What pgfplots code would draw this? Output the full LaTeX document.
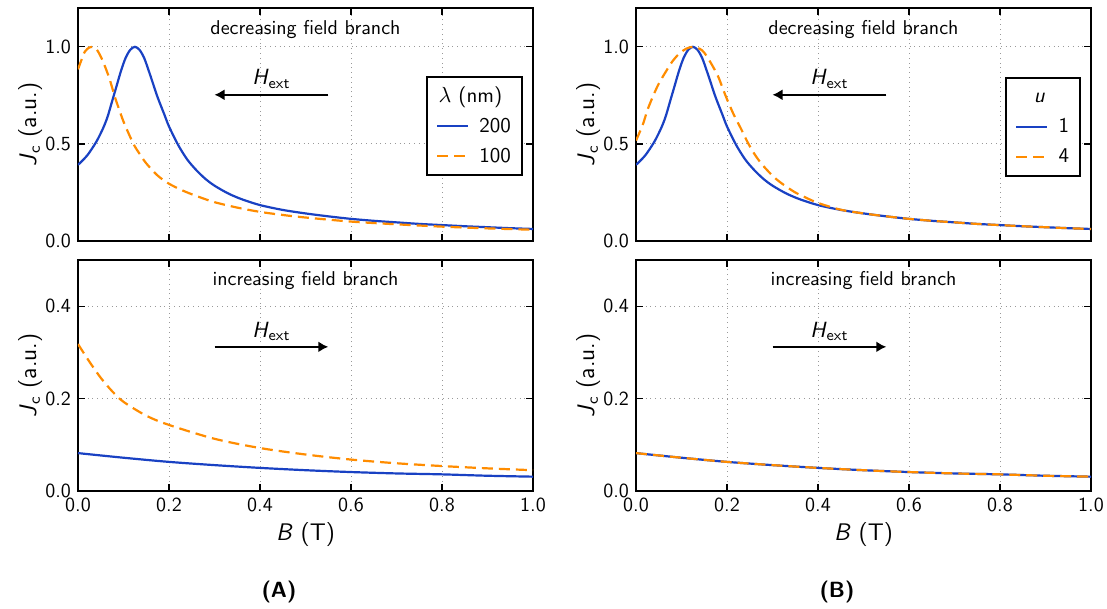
\documentclass[border=0pt]{standalone}
\usepackage{pgfplots}
\usepackage{pgfplotstable}
\pgfplotsset{compat=1.18}
\usetikzlibrary{arrows.meta}
\renewcommand{\familydefault}{\sfdefault}

\definecolor{jblue}{RGB}{25,65,195}
\definecolor{jorange}{RGB}{255,140,0}

% decreasing branch, lambda = 200 nm (same curve as u = 1)
\pgfplotstableread{
x y
0.000 0.392
0.020 0.440
0.040 0.510
0.055 0.580
0.065 0.640
0.075 0.720
0.085 0.800
0.095 0.880
0.105 0.945
0.115 0.985
0.125 1.000
0.135 0.985
0.145 0.945
0.155 0.880
0.165 0.810
0.175 0.740
0.190 0.650
0.200 0.590
0.220 0.495
0.240 0.420
0.260 0.365
0.280 0.320
0.300 0.285
0.330 0.245
0.360 0.215
0.400 0.185
0.450 0.160
0.500 0.142
0.550 0.127
0.600 0.114
0.650 0.104
0.700 0.096
0.750 0.088
0.800 0.082
0.850 0.076
0.900 0.071
0.950 0.066
1.000 0.062
}\decA

% decreasing branch, lambda = 100 nm
\pgfplotstableread{
x y
0.000 0.884
0.008 0.935
0.015 0.975
0.025 0.997
0.032 1.000
0.040 0.990
0.050 0.950
0.060 0.895
0.070 0.830
0.080 0.750
0.090 0.680
0.100 0.615
0.112 0.550
0.123 0.495
0.135 0.450
0.150 0.400
0.175 0.337
0.200 0.295
0.230 0.260
0.260 0.232
0.300 0.200
0.350 0.172
0.400 0.150
0.450 0.134
0.500 0.121
0.600 0.100
0.700 0.086
0.800 0.074
0.900 0.065
1.000 0.058
}\decB

% decreasing branch, u = 4
\pgfplotstableread{
x y
0.000 0.517
0.015 0.600
0.026 0.680
0.040 0.760
0.050 0.810
0.065 0.870
0.080 0.925
0.095 0.965
0.110 0.990
0.125 1.000
0.140 0.990
0.150 0.970
0.165 0.915
0.180 0.850
0.190 0.790
0.200 0.730
0.215 0.650
0.231 0.577
0.245 0.510
0.260 0.449
0.275 0.400
0.289 0.363
0.305 0.325
0.326 0.287
0.350 0.250
0.370 0.227
0.400 0.196
0.450 0.161
0.500 0.142
0.550 0.127
0.600 0.114
0.650 0.104
0.700 0.096
0.750 0.088
0.800 0.082
0.850 0.076
0.900 0.071
0.950 0.066
1.000 0.062
}\decC

% increasing branch, lambda = 200 nm (also u = 1 and u = 4)
\pgfplotstableread{
x y
0.000 0.082
0.100 0.072
0.200 0.063
0.300 0.056
0.400 0.050
0.500 0.045
0.600 0.041
0.700 0.038
0.800 0.036
0.900 0.033
1.000 0.031
}\incA

% increasing branch, lambda = 100 nm
\pgfplotstableread{
x y
0.000 0.318
0.025 0.280
0.050 0.245
0.075 0.216
0.100 0.193
0.150 0.163
0.200 0.143
0.300 0.113
0.400 0.093
0.500 0.079
0.600 0.068
0.700 0.060
0.800 0.054
0.900 0.049
1.000 0.045
}\incB

\tikzset{
  note/.style={font=\fontsize{10}{12}\selectfont},
  hlab/.style={font=\fontsize{11}{13}\selectfont},
  harrow/.style={-{Latex[length=5pt,width=5.5pt]}, line width=0.9pt, black},
}

% legend title: centred at a given offset left of the text column
\newcommand{\legtitle}[2]{\makebox[0pt][r]{\makebox[0pt]{#2}\hspace{#1}}}

\pgfplotsset{
  panel/.style={
    scale only axis, width=227.5pt,
    xmin=0, xmax=1, xtick={0,0.2,0.4,0.6,0.8,1.0},
    grid=major, grid style={dotted, gray!80, line width=0.5pt},
    tick align=inside, major tick length=3.5pt,
    tick style={black, line width=0.6pt},
    axis line style={line width=0.8pt},
    ticklabel style={font=\fontsize{10}{12}\selectfont},
    /pgf/number format/fixed, /pgf/number format/fixed zerofill,
    /pgf/number format/precision=1, /pgf/number format/assume math mode=true,
    ylabel={\textit{J}\textsubscript{c} (a.u.)},
    ylabel style={at={(axis description cs:-0.105,0.5)}, anchor=center, font=\fontsize{12}{14}\selectfont},
    xlabel style={at={(axis description cs:0.5,-0.19)}, anchor=center, font=\fontsize{12}{14}\selectfont},
    legend style={draw=black, line width=1pt, inner xsep=4.5pt, inner ysep=2pt,
      row sep=0pt, column sep=4pt,
      nodes={inner sep=1pt, text height=9.5pt, text depth=3.5pt},
      font=\fontsize{10.5}{12.5}\selectfont},
    legend cell align=left,
    legend image code/.code={\draw[#1] (0pt,0pt) -- (15.5pt,0pt);},
  },
  toppanel/.style={panel, height=116.5pt, ymin=0, ymax=1.2, ytick={0,0.5,1.0}, xticklabels={}},
  botpanel/.style={panel, height=115.5pt, ymin=0, ymax=0.5, ytick={0,0.2,0.4}, xlabel={\textit{B} (T)}},
  lineA/.style={jblue, line width=1.1pt, smooth},
  lineB/.style={jorange, line width=1.1pt, dash pattern=on 5.5pt off 3pt, smooth},
}

\begin{document}
\begin{tikzpicture}
\useasboundingbox (0,0) rectangle (553.5pt,-304.5pt);

% (A) top
\begin{axis}[toppanel, at={(39pt,-4pt)}, anchor=north west,
  legend style={at={(0.978,0.708)}, anchor=north east}]
\addlegendimage{empty legend}
\addlegendentry{\legtitle{4.5pt}{$\lambda$ (nm)}}
\addplot[lineA] table {\decA};
\addlegendentry{200}
\addplot[lineB] table {\decB};
\addlegendentry{100}
\node[note] at (axis cs:0.5,1.09) {decreasing field branch};
\node[hlab] at (axis cs:0.425,0.835) {\textit{H}\textsubscript{ext}};
\draw[harrow] (axis cs:0.55,0.753) -- (axis cs:0.3,0.753);
\end{axis}

% (A) bottom
\begin{axis}[botpanel, at={(39pt,-130pt)}, anchor=north west]
\addplot[lineA] table {\incA};
\addplot[lineB] table {\incB};
\node[note] at (axis cs:0.5,0.455) {increasing field branch};
\node[hlab] at (axis cs:0.425,0.345) {\textit{H}\textsubscript{ext}};
\draw[harrow] (axis cs:0.3,0.312) -- (axis cs:0.55,0.312);
\end{axis}

% (B) top
\begin{axis}[toppanel, at={(318pt,-4pt)}, anchor=north west,
  legend style={at={(0.978,0.704)}, anchor=north east}]
\addlegendimage{empty legend}
\addlegendentry{\legtitle{9.5pt}{\textit{u}}}
\addplot[lineA] table {\decA};
\addlegendentry{1}
\addplot[lineB] table {\decC};
\addlegendentry{4}
\node[note] at (axis cs:0.5,1.09) {decreasing field branch};
\node[hlab] at (axis cs:0.425,0.835) {\textit{H}\textsubscript{ext}};
\draw[harrow] (axis cs:0.55,0.753) -- (axis cs:0.3,0.753);
\end{axis}

% (B) bottom
\begin{axis}[botpanel, at={(318pt,-130pt)}, anchor=north west]
\addplot[lineA] table {\incA};
\addplot[lineB] table {\incA};
\node[note] at (axis cs:0.5,0.455) {increasing field branch};
\node[hlab] at (axis cs:0.425,0.345) {\textit{H}\textsubscript{ext}};
\draw[harrow] (axis cs:0.3,0.312) -- (axis cs:0.55,0.312);
\end{axis}

\node[font=\fontsize{11}{13}\selectfont\bfseries] at (139.5pt,-296pt) {(A)};
\node[font=\fontsize{11}{13}\selectfont\bfseries] at (418.5pt,-296pt) {(B)};
\end{tikzpicture}
\end{document}
